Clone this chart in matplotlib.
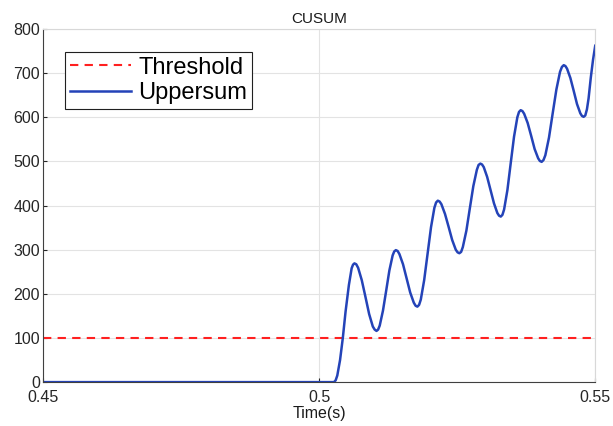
import matplotlib
matplotlib.use("Agg")
import matplotlib.pyplot as plt

plt.rcParams['font.family'] = ['Liberation Sans', 'DejaVu Sans']

# time axis limits / ticks
x_ticks = [0.45, 0.5, 0.55]
y_ticks = [0, 100, 200, 300, 400, 500, 600, 700, 800]
threshold = 100

# Uppersum (zero before ~0.5027 s)
t = [0.45, 0.5027, 0.5030, 0.5033, 0.5038, 0.5043, 0.5048, 0.5054, 0.5059, 0.50615,
     0.5064, 0.50673, 0.50707, 0.50773, 0.5084, 0.50907, 0.50973, 0.51007,
     0.5104, 0.51069, 0.51098, 0.51157, 0.51215, 0.51273, 0.51332, 0.51361,
     0.5139, 0.51423, 0.51455, 0.5152, 0.51585, 0.5165, 0.51715, 0.51748,
     0.5178, 0.51811, 0.51842, 0.51903, 0.51965, 0.52027, 0.52088, 0.52119,
     0.5215, 0.52183, 0.52215, 0.5228, 0.52345, 0.5241, 0.52475, 0.52508,
     0.5254, 0.52572, 0.52603, 0.52667, 0.5273, 0.52793, 0.52857, 0.52888,
     0.5292, 0.52951, 0.52982, 0.53043, 0.53105, 0.53167, 0.53228, 0.53259,
     0.5329, 0.5332, 0.5335, 0.5341, 0.5347, 0.5353, 0.5359, 0.5362,
     0.5365, 0.53682, 0.53713, 0.53777, 0.5384, 0.53903, 0.53967, 0.53998,
     0.5403, 0.54063, 0.54097, 0.54163, 0.5423, 0.54297, 0.54363, 0.54397,
     0.5443, 0.5446, 0.5449, 0.5455, 0.5461, 0.5467, 0.5473, 0.5476,
     0.5479, 0.5482, 0.5485, 0.5488, 0.5492, 0.5496, 0.55]
uppersum = [0, 0, 4, 15, 50, 100, 160, 220, 258, 266,
            269, 267, 259, 231, 193, 154, 126, 119,
            116, 119, 128, 162, 207, 253, 287, 296,
            299, 297, 290, 267, 235, 203, 180, 173,
            171, 175, 187, 231, 291, 351, 395, 407,
            411, 409, 403, 381, 352, 322, 300, 294,
            292, 295, 306, 343, 394, 444, 481, 492,
            495, 493, 487, 465, 435, 405, 383, 377,
            375, 379, 391, 435, 496, 556, 600, 612,
            616, 614, 608, 587, 558, 528, 507, 501,
            499, 503, 514, 554, 609, 663, 703, 714,
            718, 716, 710, 689, 660, 630, 609, 603,
            601, 604, 618, 643, 690, 730, 762]

fig = plt.figure(figsize=(6.13, 4.26), dpi=100)
ax = fig.add_axes([0.070, 0.103, 0.901, 0.829])

ax.axhline(threshold, color='#ff2020', linestyle='--', linewidth=1.5,
           dashes=(4, 3), label='Threshold')
ax.plot(t, uppersum, color='#2443b8', linewidth=1.8, label='Uppersum')

ax.set_xlim(0.45, 0.55)
ax.set_ylim(0, 800)
ax.set_xticks(x_ticks)
ax.set_xticklabels(['0.45', '0.5', '0.55'])
ax.set_yticks(y_ticks)
ax.grid(True, color='#e3e3e3', linewidth=0.8)
ax.set_axisbelow(True)

for s in ['top', 'right']:
    ax.spines[s].set_color('#d8d8d8')
for s in ['left', 'bottom']:
    ax.spines[s].set_color('#404040')
ax.tick_params(direction='in', length=3, labelsize=11.5, colors='#262626')
ax.tick_params(axis='x', pad=5.5)
ax.tick_params(axis='y', pad=2)

ax.set_title('CUSUM', fontsize=11, pad=4, color='#1a1a1a')
ax.set_xlabel('Time(s)', fontsize=11.5, labelpad=1, color='#1a1a1a')

leg = ax.legend(loc='upper left', bbox_to_anchor=(0.04, 0.935),
                fontsize=17, fancybox=False, framealpha=1,
                edgecolor='#202020', handlelength=2.6, handletextpad=0.3,
                borderpad=0.2, labelspacing=0.15, borderaxespad=0)
leg.get_frame().set_linewidth(0.8)

fig.savefig('out.png', dpi=100)
